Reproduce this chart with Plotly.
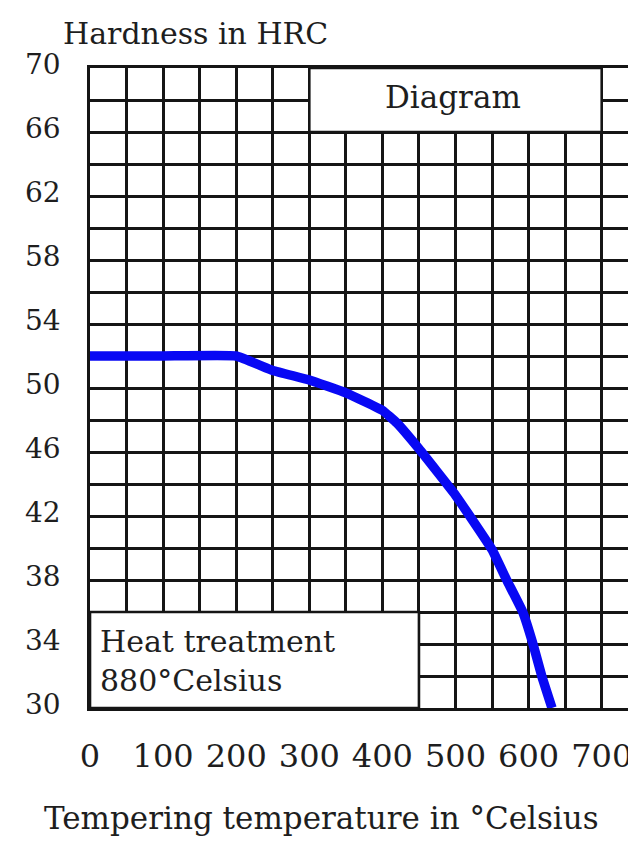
import plotly.graph_objects as go

# Data
temperature_c = [0, 100, 200, 250, 300, 350, 400, 420, 450, 500, 550, 570, 592, 606, 618, 632]
hardness_hrc = [52.0, 52.0, 52.0, 51.1, 50.5, 49.7, 48.6, 47.8, 46.2, 43.3, 39.9, 38.0, 36.0, 34.0, 32.0, 30.0]

x_tick_vals = [0, 100, 200, 300, 400, 500, 600, 700]
x_tick_labels = ["0", "100", "200", "300", "400", "500", "600", "700"]
y_tick_vals = [30, 34, 38, 42, 46, 50, 54, 58, 62, 66, 70]
y_tick_labels = ["30", "34", "38", "42", "46", "50", "54", "58", "62", "66", "70"]

y_title = "Hardness in HRC"
x_title = "Tempering temperature in °Celsius"
box_top_text = "Diagram"
box_bottom_text = "Heat treatment<br>880°Celsius"

FONT = "DejaVu Serif"
INK = "#1e1e1e"
GRID = "#151515"
GW = 2.6

OFF = 8  # page body margin
W, H = 636 - OFF, 843 - OFF
L, T = 90 - OFF, 68 - OFF
kx = 36.55 / 50.0
ky = 16.0
ph = int(40 * ky)
B = H - T - ph
R = 0
pw = W - L - R
x1 = pw / kx


def px(xp):
    return (xp - OFF - L) / pw


def py(yp):
    return (T + ph - (yp - OFF)) / ph


fig = go.Figure()
fig.add_trace(go.Scatter(
    x=temperature_c, y=hardness_hrc, mode="lines",
    line=dict(color="#0808f4", width=9.5, shape="spline", smoothing=0.3),
    hoverinfo="skip", showlegend=False,
))

fig.update_xaxes(
    range=[0, x1], tickmode="array", tickvals=x_tick_vals, ticktext=x_tick_labels,
    showgrid=True, gridcolor=GRID, gridwidth=GW, zeroline=False,
    showline=True, mirror=True, linecolor=GRID, linewidth=GW,
    ticks="", ticklabelstandoff=18,
    tickfont=dict(family=FONT, size=32, color=INK),
    minor=dict(tickmode="linear", tick0=0, dtick=50, showgrid=True, gridcolor=GRID, gridwidth=GW, ticks=""),
)
fig.update_yaxes(
    range=[30, 70], tickmode="array", tickvals=y_tick_vals, ticktext=y_tick_labels,
    showgrid=True, gridcolor=GRID, gridwidth=GW, zeroline=False,
    showline=True, mirror=False, linecolor=GRID, linewidth=GW,
    ticks="", ticklabelstandoff=21, ticklabelshift=-4,
    tickfont=dict(family=FONT, size=28, color=INK),
    minor=dict(tickmode="linear", tick0=30, dtick=2, showgrid=True, gridcolor=GRID, gridwidth=GW, ticks=""),
)

# Label boxes covering the grid
fig.add_shape(type="rect", x0=300, x1=700, y0=66, y1=70, fillcolor="white",
              line=dict(color=GRID, width=GW), layer="between")
fig.add_shape(type="rect", x0=0, x1=450, y0=30, y1=36, fillcolor="white",
              line=dict(color=GRID, width=GW), layer="between")
# top border absent right of the diagram box
fig.add_shape(type="rect", x0=702, x1=x1 + 20, y0=69.2, y1=71.5, fillcolor="white",
              line=dict(width=0), layer="above")

fig.add_annotation(x=497, y=68.2, xref="x", yref="y", text=box_top_text, showarrow=False,
                   font=dict(family=FONT, size=31, color=INK), xanchor="center", yanchor="middle")
fig.add_annotation(x=11, y=32.95, xref="x", yref="y", text=box_bottom_text, showarrow=False,
                   align="left", font=dict(family=FONT, size=30, color=INK),
                   xanchor="left", yanchor="middle")

fig.add_annotation(x=px(61), y=py(33), xref="paper", yref="paper",
                   text=y_title, showarrow=False, xanchor="left", yanchor="middle",
                   font=dict(family=FONT, size=30, color=INK))
fig.add_annotation(x=px(321), y=py(818), xref="paper", yref="paper",
                   text=x_title, showarrow=False, xanchor="center", yanchor="middle",
                   font=dict(family=FONT, size=31, color=INK))

fig.update_layout(
    width=W, height=H, margin=dict(l=L, r=R, t=T, b=B, pad=0),
    paper_bgcolor="white", plot_bgcolor="white", showlegend=False,
)

fig.write_html("out.html")
